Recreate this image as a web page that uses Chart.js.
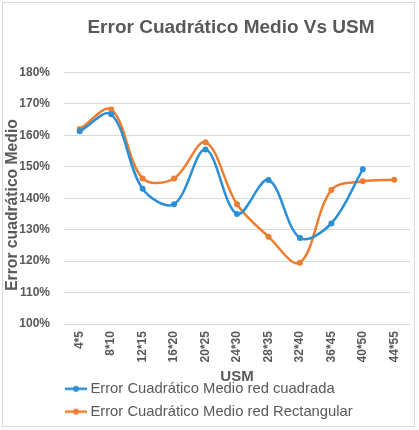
<!DOCTYPE html>
<html><head><meta charset="utf-8">
<script src="https://cdn.jsdelivr.net/npm/chart.js@4"></script>
<style>html,body{margin:0;padding:0;background:#fff;}#wrap{width:419px;height:430px;}</style>
</head><body><div id="wrap"><canvas id="c" width="419" height="430"></canvas></div>
<script>
const chartTitle = 'Error Cuadrático Medio Vs USM';
const xTitle = 'USM';
const yTitle = 'Error cuadrático Medio';
const categories = ['4*5','8*10','12*15','16*20','20*25','24*30','28*35','32*40','36*45','40*50','44*55'];
const seriesNames = ['Error Cuadrático Medio red cuadrada', 'Error Cuadrático Medio red Rectangular'];
const redCuadrada = [161.3, 166.7, 143.0, 138.1, 155.5, 135.0, 145.8, 127.4, 132.0, 149.2, null];
const redRectangular = [162.0, 168.2, 146.3, 146.3, 157.8, 138.1, 127.8, 119.5, 142.6, 145.4, 145.9];
const yMin = 100, yMax = 180, yStep = 10;

const colors = ['#2B8FD6', '#ED7D31'];
const FONT = '"Liberation Sans", Arial, sans-serif';
const GREY = '#595959';

function markerImage(color) {
  const c = document.createElement('canvas');
  c.width = 22; c.height = 8;
  const g = c.getContext('2d');
  g.strokeStyle = color; g.lineWidth = 2.5;
  g.beginPath(); g.moveTo(0, 4); g.lineTo(22, 4); g.stroke();
  g.fillStyle = color;
  g.beginPath(); g.arc(11, 4, 3, 0, Math.PI * 2); g.fill();
  return c;
}
const markers = colors.map(markerImage);

const framePlugin = {
  id: 'frame',
  beforeDraw(chart) {
    const ctx = chart.ctx;
    ctx.save();
    ctx.fillStyle = '#fff';
    ctx.fillRect(0, 0, chart.width, chart.height);
    ctx.strokeStyle = '#D9D9D9';
    ctx.lineWidth = 1;
    ctx.strokeRect(2.5, 2.5, 412, 424);
    ctx.fillStyle = GREY;
    ctx.textAlign = 'center';
    ctx.textBaseline = 'alphabetic';
    ctx.font = 'bold 19px ' + FONT;
    ctx.fillText(chartTitle, 231, 33);
    ctx.translate(13, 205);
    ctx.rotate(-Math.PI / 2);
    ctx.textBaseline = 'middle';
    ctx.font = 'bold 15.7px ' + FONT;
    ctx.fillText(yTitle, 0, 0);
    ctx.restore();
  }
};
const legendShift = {
  id: 'legendShift',
  afterLayout(chart) { if (chart.legend) chart.legend.left = 61; }
};

const seriesData = [redCuadrada, redRectangular];
new Chart(document.getElementById('c'), {
  type: 'line',
  data: {
    labels: categories,
    datasets: seriesData.map((d, i) => ({
      label: seriesNames[i],
      data: d,
      borderColor: colors[i],
      backgroundColor: colors[i],
      borderWidth: 2.5,
      pointRadius: 3,
      pointHoverRadius: 3,
      pointBorderWidth: 0,
      tension: 0.35,
      fill: false
    }))
  },
  options: {
    responsive: false,
    animation: false,
    devicePixelRatio: 1,
    layout: { padding: { top: 72.5, left: 5.3, right: 9, bottom: 1 } },
    scales: {
      x: {
        offset: true,
        grid: { display: false, drawTicks: false },
        border: { display: false },
        ticks: { color: GREY, font: { family: FONT, size: 12, weight: 'bold' }, minRotation: 90, maxRotation: 90, padding: 7, autoSkip: false },
        title: { display: true, text: xTitle, color: GREY, font: { family: FONT, size: 15, weight: 'bold', lineHeight: 1 }, padding: { top: 0, bottom: -11 } }
      },
      y: {
        min: yMin, max: yMax,
        grid: { color: '#D9D9D9', lineWidth: 1, drawTicks: false },
        border: { display: false },
        ticks: { stepSize: yStep, color: GREY, font: { family: FONT, size: 12, weight: 'bold' }, padding: 14, callback: v => v + '%' },
        title: { display: false }
      }
    },
    plugins: {
      title: { display: false },
      tooltip: { enabled: false },
      legend: {
        position: 'bottom',
        align: 'start',
        labels: {
          usePointStyle: true,
          pointStyleWidth: 14,
          padding: 8,
          color: GREY,
          font: { family: FONT, size: 14.8 },
          generateLabels(chart) {
            return chart.data.datasets.map((ds, i) => ({
              text: ds.label,
              fontColor: GREY,
              pointStyle: markers[i],
              fillStyle: colors[i],
              strokeStyle: colors[i],
              lineWidth: 0,
              hidden: false,
              datasetIndex: i
            }));
          }
        }
      }
    }
  },
  plugins: [framePlugin, legendShift]
});
</script>
</body></html>
